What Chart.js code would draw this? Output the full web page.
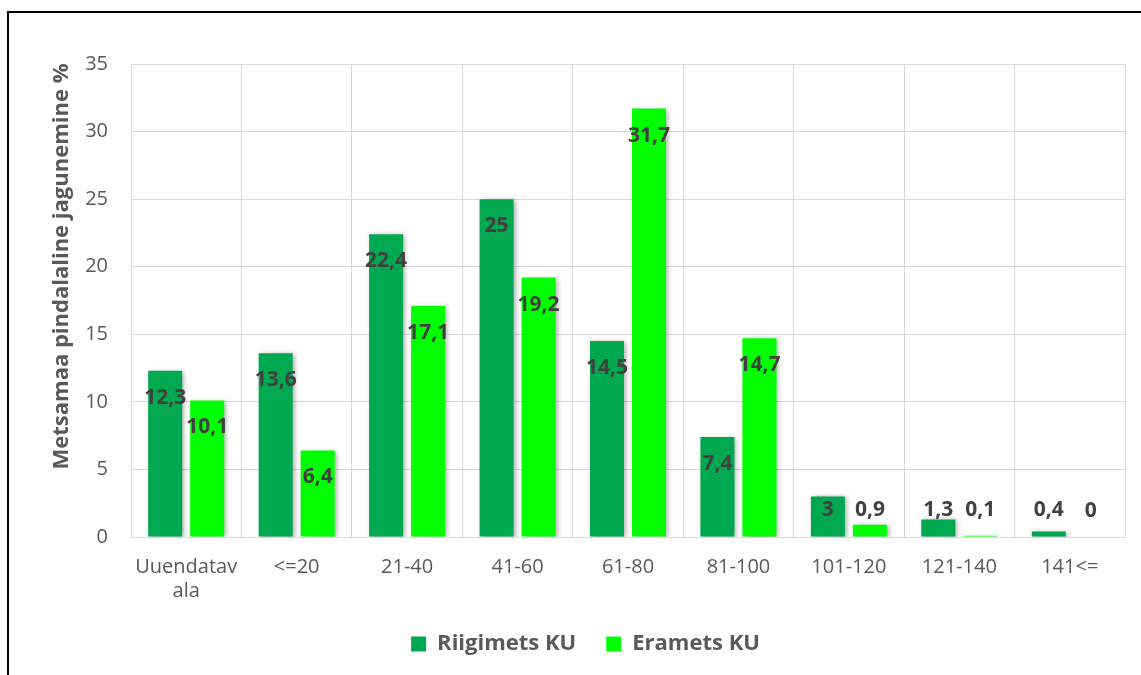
<!DOCTYPE html>
<html lang="et">
<head>
  <title>Metsamaa pindalaline jagunemine</title>
  <meta charset="utf-8">
  <script src="https://cdn.jsdelivr.net/npm/chart.js@4.4.1/dist/chart.umd.min.js"></script>
</head>
<style>
  body {
    margin: 0;
    background-color: #fff;
    overflow: hidden;
    font-family: "Open Sans", sans-serif;
  }

  .frame {
    position: absolute;
    left: 7px;
    top: 11px;
    width: 1132px;
    height: 700px;
    border-left: 2px solid #000;
    border-top: 2px solid #000;
  }

  .chart-box {
    position: relative;
    width: 1132px;
    height: 652px;
  }
</style>
<body>

  <div class="frame">
    <div class="chart-box">
      <canvas id="myChart"></canvas>
    </div>
  </div>

  <script>
    const categories = [["Uuendatav", "ala"], "<=20", "21-40", "41-60", "61-80", "81-100", "101-120", "121-140", "141<="];
    const riigimets = [12.3, 13.6, 22.4, 25, 14.5, 7.4, 3, 1.3, 0.4];
    const eramets = [10.1, 6.4, 17.1, 19.2, 31.7, 14.7, 0.9, 0.1, 0];
    const seriesNames = ["Riigimets KU", "Eramets KU"];
    const yTitle = "Metsamaa pindalaline jagunemine %";

    const textGray = "#595959";
    const gridGray = "#d9d9d9";
    const fontName = "Open Sans";

    // soft shadow behind the bars
    const barShadow = {
      id: "barShadow",
      beforeDatasetsDraw(chart) {
        const ctx = chart.ctx;
        ctx.save();
        ctx.shadowColor = "rgba(0,0,0,0.35)";
        ctx.shadowBlur = 5;
        ctx.shadowOffsetX = 2;
        ctx.shadowOffsetY = 1;
      },
      afterDatasetsDraw(chart) {
        chart.ctx.restore();
      }
    };

    // value labels near the bar top
    const valueLabels = {
      id: "valueLabels",
      afterDatasetsDraw(chart) {
        const ctx = chart.ctx;
        ctx.save();
        ctx.font = "bold 21px '" + fontName + "'";
        ctx.fillStyle = "#404040";
        ctx.textAlign = "center";
        ctx.textBaseline = "middle";
        chart.data.datasets.forEach((ds, i) => {
          chart.getDatasetMeta(i).data.forEach((bar, j) => {
            const y = Math.min(bar.y + 27, bar.base - 26);
            ctx.fillText(String(ds.data[j]).replace(".", ","), bar.x, y);
          });
        });
        ctx.restore();
      }
    };

    // axis title, centred a bit higher than the plot like in Excel
    const axisTitle = {
      id: "axisTitle",
      afterDraw(chart) {
        const ctx = chart.ctx;
        const area = chart.chartArea;
        ctx.save();
        ctx.translate(53, (area.top + area.bottom) / 2 - 34);
        ctx.rotate(-Math.PI / 2);
        ctx.font = "bold 22px '" + fontName + "'";
        ctx.fillStyle = textGray;
        ctx.textAlign = "center";
        ctx.textBaseline = "middle";
        ctx.fillText(yTitle, 0, 0);
        ctx.restore();
      }
    };

    new Chart("myChart", {
      type: "bar",
      data: {
        labels: categories,
        datasets: [{
          label: seriesNames[0],
          data: riigimets,
          backgroundColor: "#00a84f"
        }, {
          label: seriesNames[1],
          data: eramets,
          backgroundColor: "#00ff00"
        }]
      },
      plugins: [barShadow, valueLabels, axisTitle],
      options: {
        responsive: true,
        maintainAspectRatio: false,
        animation: false,
        categoryPercentage: 0.761,
        barPercentage: 0.81,
        layout: {
          padding: { top: 51, right: 16, left: 37, bottom: 0 }
        },
        plugins: {
          tooltip: { enabled: false },
          legend: {
            position: "bottom",
            labels: {
              boxWidth: 15,
              boxHeight: 15,
              padding: 30,
              color: textGray,
              font: { family: fontName, size: 22, weight: "bold" }
            }
          }
        },
        scales: {
          x: {
            grid: { color: gridGray, drawTicks: false, offset: true },
            border: { color: gridGray },
            ticks: {
              color: textGray,
              padding: 18,
              maxRotation: 0,
              font: { family: fontName, size: 20, lineHeight: 1.2 }
            },
            afterFit(scale) { scale.height = 66; }
          },
          y: {
            min: 0,
            max: 35,
            grid: { color: gridGray, drawTicks: false },
            border: { display: false },
            ticks: {
              stepSize: 5,
              color: textGray,
              padding: 23,
              font: { family: fontName, size: 20 }
            },
            afterFit(scale) { scale.width = 85; }
          }
        }
      }
    });
  </script>

</body>
</html>
